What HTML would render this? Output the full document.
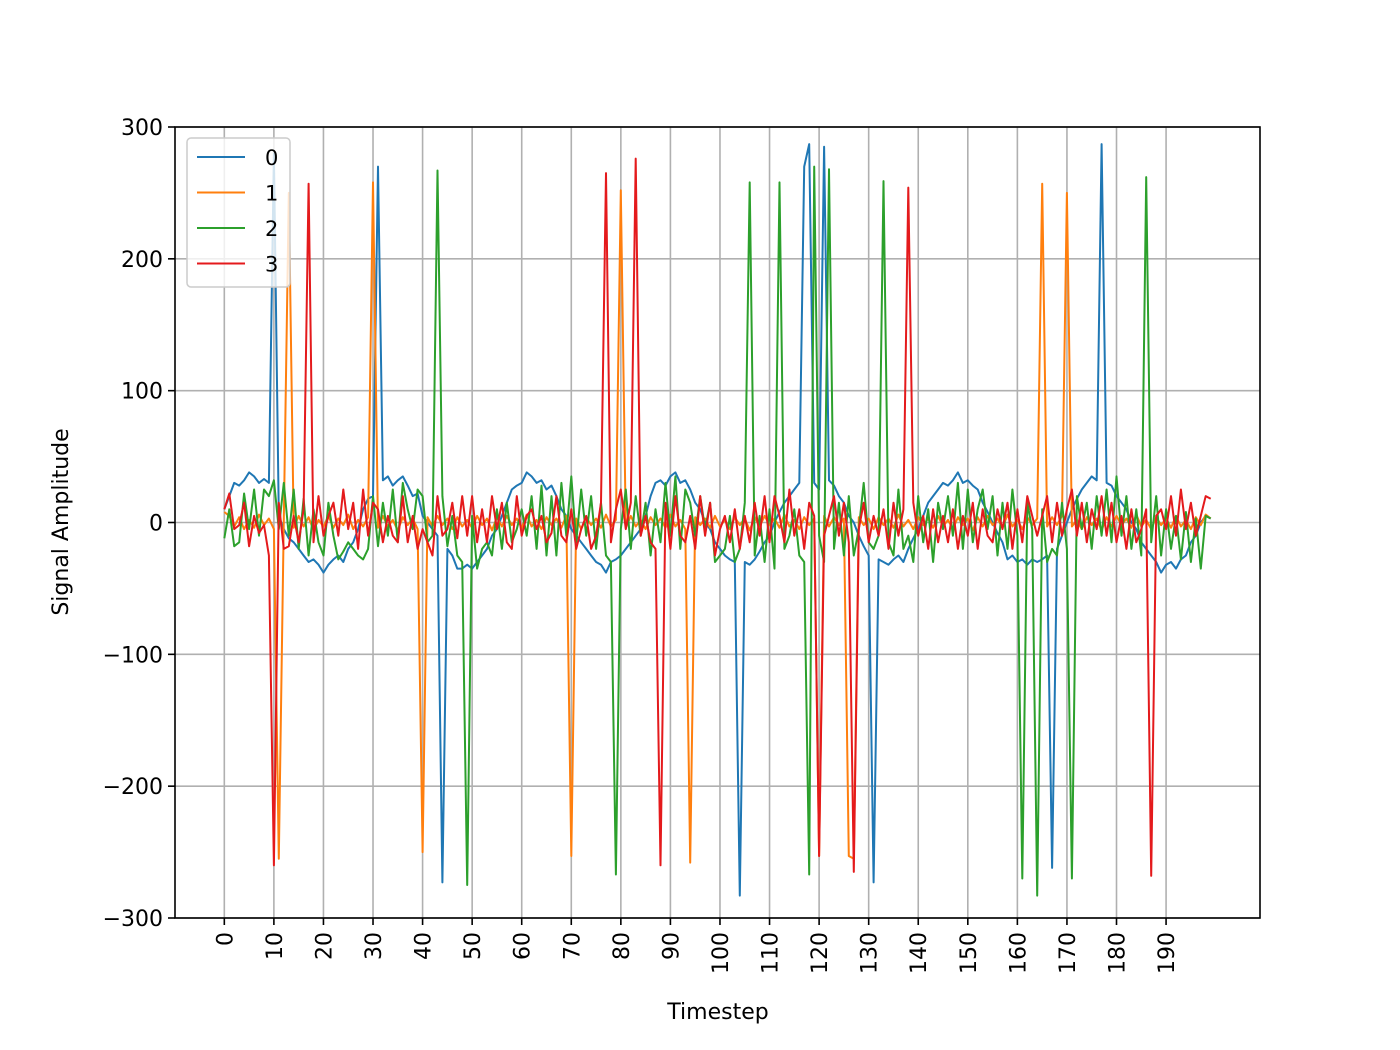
<!DOCTYPE html>
<html><head><meta charset="utf-8"><style>
body{margin:0;background:#fff}
svg{display:block;font-family:"DejaVu Sans","Liberation Sans",sans-serif}
</style></head><body>
<svg id="chart" width="1400" height="1050" xmlns="http://www.w3.org/2000/svg">
<rect width="1400" height="1050" fill="#fff"/>
<g id="grid"></g>
<g id="series"></g>
<rect x="175" y="127" width="1085" height="791" fill="none" stroke="#000" stroke-width="1.6"/>
<g id="axes"></g>
<text x="718" y="1019" font-size="22" text-anchor="middle">Timestep</text>
<text transform="translate(68,522) rotate(-90)" font-size="22" text-anchor="middle">Signal Amplitude</text>
<g id="legend"></g>
</svg>
<script>
const seriesNames=["0","1","2","3"];
const colors=["#1f77b4","#ff7f0e","#2ca02c","#e41a1c"];
const xTicks=[0,10,20,30,40,50,60,70,80,90,100,110,120,130,140,150,160,170,180,190];
const yTicks=[-300,-200,-100,0,100,200,300];
const yTickLabels=["\u2212300","\u2212200","\u2212100","0","100","200","300"];
const s0=[10,20,30,28,32,38,35,30,33,30,280,5,-5,-12,-15,-20,-25,-30,-28,-32,-38,-32,-28,-25,-30,-20,-15,-5,10,18,20,270,32,35,28,32,35,28,20,22,5,0,-5,-10,-273,-20,-25,-35,-35,-32,-35,-30,-25,-20,-10,-5,5,15,25,28,30,38,35,30,32,25,28,20,10,5,-5,-10,-15,-20,-25,-30,-32,-38,-30,-28,-25,-20,-15,-10,-5,5,20,30,32,28,35,38,30,32,25,15,10,0,-5,-15,-20,-25,-28,-30,-283,-30,-32,-28,-22,-15,-10,0,8,15,20,25,30,270,287,30,25,285,32,28,20,15,5,0,-10,-18,-25,-273,-28,-30,-32,-28,-25,-30,-20,-12,-5,5,15,20,25,30,28,32,38,30,32,28,25,15,8,0,-8,-15,-28,-25,-30,-28,-32,-28,-30,-28,-25,-262,-20,-10,0,10,18,25,30,35,32,287,30,28,20,15,10,0,-5,-15,-20,-25,-30,-38,-32,-30,-35,-28,-25,-15,-10,0,5,3];
const s1=[8,5,-3,4,-5,2,-4,6,-2,3,
-5,-255,2,250,-4,5,-3,4,-6,2,
-3,5,-4,3,-2,6,-5,2,-3,4,
258,-4,5,-3,2,-6,4,-2,3,-5,
-250,4,-3,5,-2,3,-5,4,-3,2,
-4,5,-2,3,-6,4,-3,5,-2,3,
-4,6,-3,2,-5,4,-2,3,-4,5,
-253,3,-5,4,-2,3,-4,6,-3,2,
252,-4,5,-3,2,-5,4,-2,3,-4,
6,-3,2,-5,-258,4,-2,3,-4,5,
-3,2,-5,4,-2,3,-6,4,-3,5,
-2,3,-4,6,-3,2,-5,4,-2,3,
-253,5,-3,4,-2,3,-253,-255,4,-2,
3,-5,4,-2,3,-4,6,-3,2,-5,
4,-2,3,-4,5,-3,2,-5,4,-2,
3,-6,4,-3,5,-2,3,-4,6,-3,
2,-5,4,-2,3,257,-3,4,-2,5,
250,-3,2,-5,4,-2,3,-6,4,-3,
5,-2,3,-4,6,-3,2,-5,4,-2,
3,-4,5,-3,2,-5,4,-2,6,3];
const s2=[-12,10,-18,-15,22,-5,25,-10,25,20,
32,-5,30,-10,25,-20,18,-25,10,-15,
-25,15,-10,-28,-22,-15,-20,-25,-28,-20,
20,-18,15,-10,25,-15,30,10,-5,25,
20,-15,-10,267,20,-18,5,-25,-30,-275,
5,-35,-20,-15,-25,10,-20,15,-15,-5,
10,-10,20,-20,28,-25,20,-25,30,-10,
35,-15,25,-10,20,-20,15,-25,-30,-267,
-5,25,-20,20,-10,15,-25,10,-15,30,
-10,35,-20,25,15,-10,20,-5,15,-30,
-25,-20,5,-30,-20,15,258,-25,5,-30,
10,-35,258,-20,-10,10,-25,-30,-267,270,
-10,-30,268,-20,15,-25,20,-25,-5,30,
-15,-20,-10,259,-15,-25,25,-20,-10,-30,
20,-15,10,-30,15,-5,20,-10,30,-20,
25,-15,10,25,-5,20,-25,15,-20,25,
-10,-270,15,-5,-283,10,-30,-20,-25,15,
-20,-270,20,-5,15,-20,20,-10,25,-15,
35,-10,20,-20,10,-25,262,-15,20,-25,
10,-20,5,-28,8,-30,3,-35,5,3];
const s3=[10,22,-5,-2,15,-18,5,-8,-2,-25,
-260,15,-20,-18,5,-15,10,257,-15,20,
-10,5,15,-10,25,-5,15,-20,25,-10,
15,10,-15,5,-10,-15,20,-15,5,-20,
-5,-15,-25,20,-10,-5,15,-12,20,-10,
20,-15,10,-15,20,-5,15,-15,-20,20,
-10,5,10,-5,5,-15,-8,20,-10,-15,
10,-20,-5,5,-20,-10,15,265,-15,10,
25,-5,15,276,-10,5,-15,-20,-260,15,
-20,20,-10,-15,5,-20,20,-10,15,-25,
-5,5,-15,10,-20,5,-15,15,-10,20,
-15,20,5,-15,25,-10,10,-20,15,5,
-253,-10,5,20,-10,15,-15,-265,-5,15,
-15,5,-10,10,-20,15,-10,10,254,15,
-10,5,-20,10,-15,5,-15,10,-20,5,
-10,15,-20,10,-10,-15,10,-5,15,-20,
10,-15,20,5,-10,5,20,-15,15,-10,
10,25,-10,15,-15,10,-5,20,-10,15,
-15,5,-20,10,-15,-5,10,-268,5,10,
-5,20,-10,25,-5,15,-10,5,20,18];
const data=[s0,s1,s2,s3];
const X0=175,X1=1260,Y0=127,Y1=918,XMIN=-9.95,XMAX=208.95,YMIN=-300,YMAX=300;
const xs=v=>X0+(v-XMIN)/(XMAX-XMIN)*(X1-X0);
const ys=v=>Y1-(v-YMIN)/(YMAX-YMIN)*(Y1-Y0);
const NS="http://www.w3.org/2000/svg";
function mk(tag,attrs,parent){const e=document.createElementNS(NS,tag);for(const k in attrs)e.setAttribute(k,attrs[k]);parent.appendChild(e);return e;}
const grid=document.getElementById('grid'),axes=document.getElementById('axes');
xTicks.forEach(t=>{
  const g=mk('line',{x1:xs(t),x2:xs(t),y1:Y0,y2:Y1,stroke:'#b0b0b0','stroke-width':1.6},grid);
  
  
  const tk=mk('line',{x1:xs(t),x2:xs(t),y1:Y1,y2:Y1+7,stroke:'#000','stroke-width':1.6},axes);
  
  
  const tx=mk('text',{transform:`translate(${xs(t)+8},${Y1+14}) rotate(-90)`,'font-size':22,'text-anchor':'end'},axes);
  tx.textContent=String(t);
  
  
});
yTicks.forEach((t,i)=>{
  const g=mk('line',{x1:X0,x2:X1,y1:ys(t),y2:ys(t),stroke:'#b0b0b0','stroke-width':1.6},grid);
  
  
  const tk=mk('line',{x1:X0-7,x2:X0,y1:ys(t),y2:ys(t),stroke:'#000','stroke-width':1.6},axes);
  
  
  const tx=mk('text',{x:X0-12,y:ys(t)+8,'font-size':22,'text-anchor':'end'},axes);
  tx.textContent=yTickLabels[i];
  
  
});
const sg=document.getElementById('series');
data.forEach((arr,si)=>{
  const pts=arr.map((v,i)=>xs(i).toFixed(1)+','+ys(v).toFixed(1)).join(' ');
  const p=mk('polyline',{points:pts,fill:'none',stroke:colors[si],'stroke-width':2,'stroke-linejoin':'round'},sg);
  
  
});
const lg=document.getElementById('legend');
const box=mk('rect',{x:187,y:138,width:103,height:149,rx:4,fill:'#fff','fill-opacity':0.8,stroke:'#ccc','stroke-width':1.5},lg);


seriesNames.forEach((n,i)=>{
  const y=157+i*35.5;
  const l=mk('line',{x1:197,x2:245,y1:y,y2:y,stroke:colors[i],'stroke-width':2},lg);
  
  
  const t=mk('text',{x:265,y:y+8,'font-size':21},lg);
  t.textContent=n;
  
  
});
</script>
</body></html>
